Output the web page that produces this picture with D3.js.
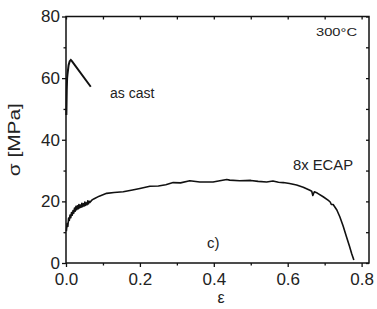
<!DOCTYPE html>
<html>
<head>
<meta charset="utf-8">
<script src="https://cdn.jsdelivr.net/npm/d3@7"></script>
<style>
  body { margin: 0; background: #fff; }
  svg text { font-family: "Liberation Sans", Arial, sans-serif; fill: #222; }
</style>
</head>
<body>
<div id="chart"></div>
<script>
// as cast curve (strain, stress)
const asCastStrain = [0.001, 0.002, 0.003, 0.004, 0.007, 0.010, 0.013, 0.016, 0.067];
const asCastStress = [48, 56, 60, 61.2, 64.2, 65.5, 65.9, 65.5, 57.2];

// 8x ECAP curve (strain, stress)
const ecapStrain = [0.001, 0.003, 0.005, 0.007, 0.009, 0.011, 0.013, 0.015, 0.017, 0.019, 0.021, 0.023, 0.025, 0.027, 0.029,
  0.031, 0.033, 0.035, 0.037, 0.039, 0.041, 0.043, 0.045, 0.047, 0.049, 0.051, 0.053, 0.055, 0.057, 0.059, 0.061, 0.063, 0.065,
  0.070, 0.075, 0.090, 0.110, 0.130, 0.155, 0.180, 0.200, 0.227, 0.250, 0.270, 0.290, 0.310, 0.335, 0.362, 0.398, 0.420, 0.435, 0.443, 0.470,
  0.500, 0.520, 0.543, 0.560, 0.575, 0.588, 0.605, 0.624, 0.642, 0.660, 0.665, 0.668, 0.672, 0.680, 0.696, 0.710, 0.715, 0.718, 0.723, 0.733, 0.741,
  0.750, 0.759, 0.767, 0.773, 0.779];
const ecapStress = [10.3, 12.8, 11.9, 14.6, 13.8, 15.6, 14.7, 16.4, 15.5, 17.0, 16.2, 17.8, 16.8, 18.4, 17.3,
  18.6, 17.6, 19.0, 17.9, 18.8, 18.1, 19.4, 18.3, 19.2, 18.5, 19.8, 18.7, 19.5, 18.9, 20.2, 19.2, 20.0, 19.7,
  20.4, 20.8, 21.7, 22.6, 22.9, 23.1, 23.7, 24.2, 24.9, 25.0, 25.4, 26.1, 26.0, 26.7, 26.3, 26.3, 26.8, 27.1, 26.9, 26.7,
  26.8, 26.5, 26.3, 26.6, 26.2, 26.1, 25.8, 25.3, 24.6, 23.6, 23.3, 21.9, 23.1, 22.7, 21.5, 20.3, 19.8, 19.0, 19.0, 17.2, 15.0,
  12.0, 8.5, 5.5, 3.1, 1.0];

const xTicks = [0, 0.2, 0.4, 0.6, 0.8];
const xMinor = [0.1, 0.3, 0.5, 0.7];
const yTicks = [0, 20, 40, 60, 80];
const yMinor = [10, 30, 50, 70];

const width = 377, height = 309;
const margin = { top: 16.5, right: 8, bottom: 46, left: 66 };

const svg = d3.select("#chart").append("svg")
  .attr("width", width)
  .attr("height", height);

const x = d3.scaleLinear().domain([0, 0.82]).range([margin.left, width - margin.right]);
const y = d3.scaleLinear().domain([0, 80]).range([height - margin.bottom, margin.top]);

// frame
svg.append("rect")
  .attr("x", x(0)).attr("y", y(80))
  .attr("width", x(0.82) - x(0)).attr("height", y(0) - y(80))
  .attr("fill", "none").attr("stroke", "#111").attr("stroke-width", 1.5);

// axes: outward bottom/left, inward top/right
function styleAxis(g) {
  g.select(".domain").remove();
  g.selectAll("line").attr("stroke", "#111").attr("stroke-width", 1.3);
  g.selectAll("text").style("font-size", "17px").attr("fill", "#333");
}

svg.append("g").attr("transform", `translate(0,${y(0)})`)
  .call(d3.axisBottom(x).tickValues(xTicks).tickSize(4).tickPadding(6).tickFormat(d3.format(".1f")))
  .call(styleAxis);
svg.append("g").attr("transform", `translate(0,${y(0)})`)
  .call(d3.axisBottom(x).tickValues(xMinor).tickSize(2.5).tickFormat(""))
  .call(styleAxis);
svg.append("g").attr("transform", `translate(${x(0)},0)`)
  .call(d3.axisLeft(y).tickValues(yTicks).tickSize(4).tickPadding(2))
  .call(styleAxis);
svg.append("g").attr("transform", `translate(${x(0)},0)`)
  .call(d3.axisLeft(y).tickValues(yMinor).tickSize(2.5).tickFormat(""))
  .call(styleAxis);
svg.append("g").attr("transform", `translate(0,${y(80)})`)
  .call(d3.axisBottom(x).tickValues(xTicks.concat(xMinor)).tickSize(3).tickFormat(""))
  .call(styleAxis);
svg.append("g").attr("transform", `translate(${x(0.82)},0)`)
  .call(d3.axisLeft(y).tickValues(yTicks.concat(yMinor)).tickSize(3).tickFormat(""))
  .call(styleAxis);

// curves
const line = d3.line().x(d => x(d[0])).y(d => y(d[1]));

svg.append("path")
  .datum(asCastStrain.map((s, i) => [s, asCastStress[i]]))
  .attr("d", line)
  .attr("fill", "none").attr("stroke", "#111").attr("stroke-width", 2);

svg.append("path")
  .datum(ecapStrain.map((s, i) => [s, ecapStress[i]]))
  .attr("d", line)
  .attr("fill", "none").attr("stroke", "#111").attr("stroke-width", 1.6)
  .attr("stroke-linejoin", "round");

// annotations
svg.append("text").attr("x", 110).attr("y", 97.5).style("font-size", "14px").text("as cast");
svg.append("text").attr("x", 293).attr("y", 170)
  .attr("textLength", 60).attr("lengthAdjust", "spacingAndGlyphs").style("font-size", "15px").text("8x ECAP");
svg.append("text").attr("x", 316).attr("y", 36).style("font-size", "11px")
  .attr("textLength", 41).attr("lengthAdjust", "spacingAndGlyphs").text("300°C");
svg.append("text").attr("x", 207).attr("y", 248).style("font-size", "15px").attr("fill", "#444").text("c)");

// axis titles
svg.append("text")
  .attr("transform", `translate(20,${(y(0) + y(80)) / 2}) rotate(-90)`)
  .attr("text-anchor", "middle")
  .attr("textLength", 73).attr("lengthAdjust", "spacingAndGlyphs")
  .style("font-size", "17px").attr("fill", "#333")
  .text("σ [MPa]");
svg.append("text")
  .attr("x", 221).attr("y", 303)
  .attr("text-anchor", "middle")
  .style("font-size", "16px").attr("fill", "#333")
  .text("ε");
</script>
</body>
</html>
